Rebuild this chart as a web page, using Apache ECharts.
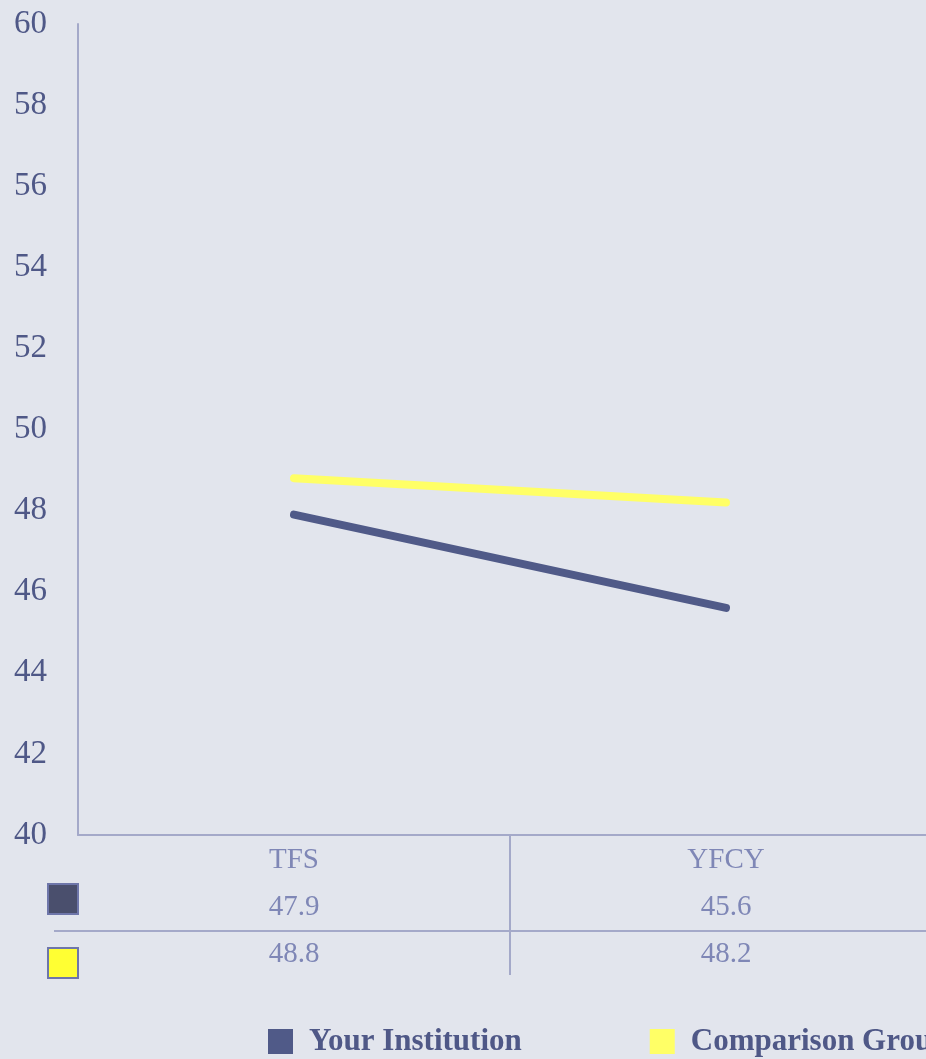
<!DOCTYPE html>
<html>
<head>
<meta charset="utf-8">
<script src="https://cdn.jsdelivr.net/npm/echarts@6/dist/echarts.min.js"></script>
<style>
  html, body { margin: 0; padding: 0; background: #E2E5ED; }
  #chart { width: 926px; height: 1059px; }
</style>
</head>
<body>
<div id="chart"></div>
<script>
const categories = ['TFS', 'YFCY'];
const yourInstitution = [47.9, 45.6];
const comparisonGroup = [48.8, 48.2];
const seriesNames = ['Your Institution', 'Comparison Group'];

const darkBlue = '#505A88';
const yellow = '#FFFF66';
const axisColor = '#A4A9C9';
const serif = '"Liberation Serif", "DejaVu Serif", serif';

const chart = echarts.init(document.getElementById('chart'));

chart.setOption({
  animation: false,
  backgroundColor: '#E2E5ED',
  grid: { left: 78, top: 24, bottom: 224, right: -16, outerBoundsMode: 'none' },
  legend: {
    left: 263,
    top: 1021,
    width: 1200,
    icon: 'rect',
    itemWidth: 25,
    itemHeight: 25,
    itemGap: 128,
    textStyle: {
      fontFamily: serif,
      fontSize: 31,
      fontWeight: 'bold',
      color: '#4F5887',
      lineHeight: 30,
      padding: [0, 0, 0, 11]
    },
    data: seriesNames
  },
  xAxis: {
    type: 'category',
    data: categories,
    boundaryGap: true,
    axisLine: { lineStyle: { color: axisColor, width: 2 } },
    axisTick: { show: false },
    axisLabel: {
      margin: 2,
      formatter: (v, i) =>
        '{c|' + v + '}\n{v|' + yourInstitution[i].toFixed(1) + '}\n{v|' + comparisonGroup[i].toFixed(1) + '}',
      rich: {
        c: { fontFamily: serif, fontSize: 29, color: '#7F87B6', lineHeight: 47 },
        v: { fontFamily: serif, fontSize: 29, color: '#7F87B6', lineHeight: 47 }
      }
    }
  },
  yAxis: {
    type: 'value',
    min: 40,
    max: 60,
    interval: 2,
    axisLine: { show: true, lineStyle: { color: axisColor, width: 2 } },
    axisTick: { show: false },
    splitLine: { show: false },
    axisLabel: {
      margin: 31,
      fontFamily: serif,
      fontSize: 33,
      color: '#4F5887'
    }
  },
  series: [
    {
      name: seriesNames[0],
      type: 'line',
      data: yourInstitution,
      symbol: 'none',
      color: darkBlue,
      lineStyle: { width: 8, cap: 'round', color: darkBlue }
    },
    {
      name: seriesNames[1],
      type: 'line',
      data: comparisonGroup,
      symbol: 'none',
      color: yellow,
      lineStyle: { width: 8, cap: 'round', color: yellow }
    }
  ]
});

// data table lines and keys, placed from the axis scale
const x0 = chart.convertToPixel({ xAxisIndex: 0 }, categories[0]);
const x1 = chart.convertToPixel({ xAxisIndex: 0 }, categories[1]);
const yBase = chart.convertToPixel({ yAxisIndex: 0 }, 40);
const midX = Math.round((x0 + x1) / 2);

chart.setOption({
  graphic: [
    {
      type: 'line',
      shape: { x1: midX, y1: yBase, x2: midX, y2: yBase + 140 },
      style: { stroke: axisColor, lineWidth: 2 }
    },
    {
      type: 'line',
      shape: { x1: 54, y1: yBase + 96, x2: 926, y2: yBase + 96 },
      style: { stroke: axisColor, lineWidth: 2 }
    },
    {
      type: 'rect',
      shape: { x: 48, y: 884, width: 30, height: 30 },
      style: { fill: '#4A4F6D', stroke: '#6E76AA', lineWidth: 2 }
    },
    {
      type: 'rect',
      shape: { x: 48, y: 948, width: 30, height: 30 },
      style: { fill: '#FFFF33', stroke: '#6E76AA', lineWidth: 2 }
    }
  ]
});
</script>
</body>
</html>
